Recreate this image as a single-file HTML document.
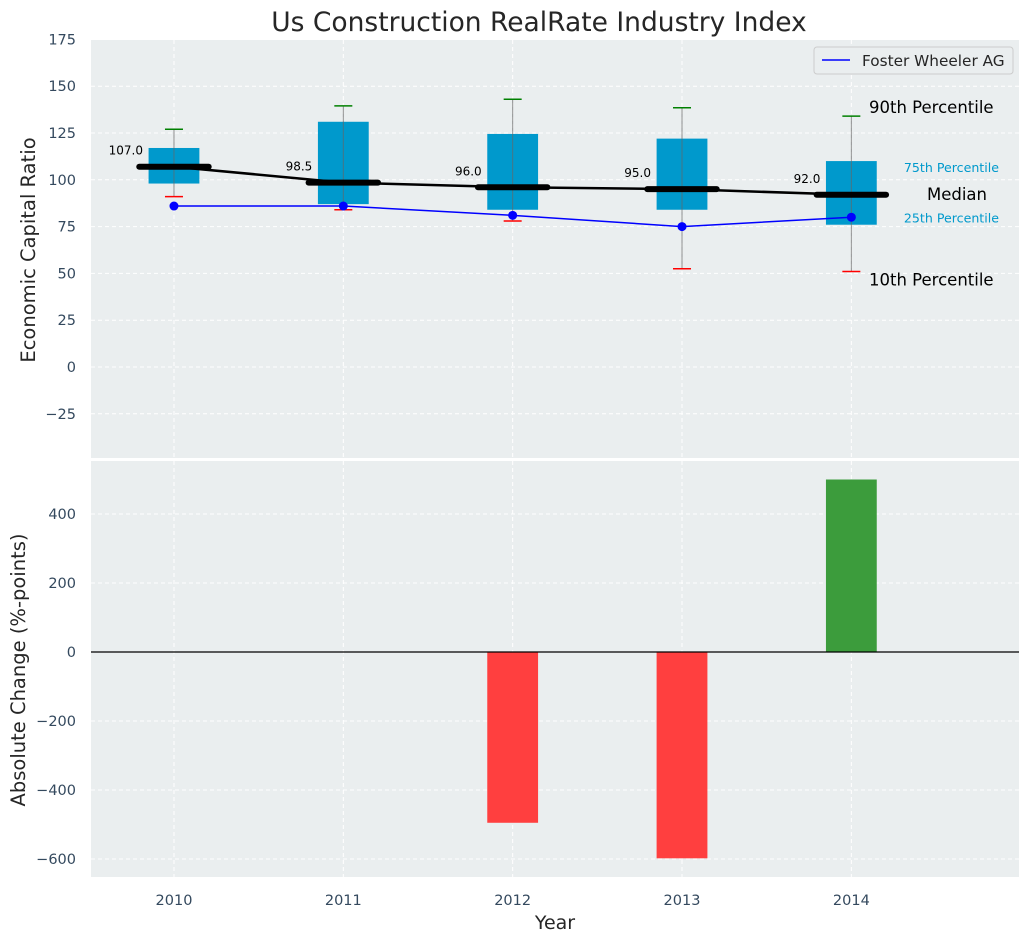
<!DOCTYPE html>
<html><head><meta charset="utf-8">
<style>
body{margin:0;background:#fff;font-family:"DejaVu Sans","Liberation Sans",sans-serif;}
svg text{font-family:"DejaVu Sans","Liberation Sans",sans-serif;}
</style></head>
<body>
<svg id="c" width="1029" height="942" xmlns="http://www.w3.org/2000/svg">
<rect x="0" y="0" width="1029" height="942" fill="#fff"/>
<text x="539" y="31" font-size="26.5" text-anchor="middle" fill="#262626">Us Construction RealRate Industry Index</text>
<g id="gtop"></g>
<g id="gbot"></g>
<text transform="translate(35,250) rotate(-90)" font-size="19.5" text-anchor="middle" fill="#262626">Economic Capital Ratio</text>
<text transform="translate(25,670) rotate(-90)" font-size="19.5" text-anchor="middle" fill="#262626">Absolute Change (%-points)</text>
<text x="555" y="929" font-size="19" text-anchor="middle" fill="#262626">Year</text>
</svg>
<script>
const years=[2010,2011,2012,2013,2014];
const q1=[98,87,84,84,76];
const q3=[117,131,124.5,122,110];
const p10=[91,84,78,52.5,51];
const p90=[127,139.5,143,138.5,134];
const medians=[107,98.5,96,95,92];
const company=[86,86,81,75,80];
const changes=[0,0,-495,-598,500];
const topTicks=[-25,0,25,50,75,100,125,150,175];
const botTicks=[-600,-400,-200,0,200,400];

const NS="http://www.w3.org/2000/svg";
const L=91,R=1019;
const x=v=>L+(v-2009.51)/(5.48)*(R-L);
const yT=v=>367-v*1.872;
const yB=v=>652-v*0.345;
function mk(p,tag,a,txt){const e=document.createElementNS(NS,tag);for(const k in a)e.setAttribute(k,a[k]);if(txt!=null)e.textContent=txt;p.appendChild(e);return e;}
const gT=document.getElementById('gtop'),gB=document.getElementById('gbot');
let e;
e=mk(gT,'rect',{x:L,y:40,width:R-L,height:418,fill:'#eaeeef'});


e=mk(gB,'rect',{x:L,y:461,width:R-L,height:416,fill:'#eaeeef'});


years.forEach(yr=>{
 mk(gT,'line',{x1:x(yr),x2:x(yr),y1:40,y2:458,stroke:'#fff','stroke-dasharray':'4,3','stroke-width':1});
 mk(gB,'line',{x1:x(yr),x2:x(yr),y1:461,y2:877,stroke:'#fff','stroke-dasharray':'4,3','stroke-width':1});
 e=mk(gB,'text',{x:x(yr),y:905,'font-size':14.5,'text-anchor':'middle',fill:'#34495e'},yr);
 
 
});
topTicks.forEach(t=>{
 mk(gT,'line',{x1:L,x2:R,y1:yT(t),y2:yT(t),stroke:'#fff','stroke-dasharray':'4,3'});
 e=mk(gT,'text',{x:76,y:yT(t)+5,'font-size':14.5,'text-anchor':'end',fill:'#34495e'},t<0?'−'+(-t):t);
 
 
});
botTicks.forEach(t=>{
 mk(gB,'line',{x1:L,x2:R,y1:yB(t),y2:yB(t),stroke:'#fff','stroke-dasharray':'4,3'});
 e=mk(gB,'text',{x:76,y:yB(t)+5,'font-size':14.5,'text-anchor':'end',fill:'#34495e'},t<0?'−'+(-t):t);
 
 
});
const bw=0.3*(R-L)/5.48, mw=0.41*(R-L)/5.48;
years.forEach((yr,i)=>{
 const cx=x(yr);
 e=mk(gT,'rect',{x:cx-bw/2,y:yT(q3[i]),width:bw,height:yT(q1[i])-yT(q3[i]),fill:'#0099cc'});
 
 
 mk(gT,'line',{x1:cx,x2:cx,y1:yT(p90[i]),y2:yT(p10[i]),stroke:'#666','stroke-width':1,opacity:0.7});
 mk(gT,'line',{x1:cx-9,x2:cx+9,y1:yT(p90[i]),y2:yT(p90[i]),stroke:'green','stroke-width':1.5});
 mk(gT,'line',{x1:cx-9,x2:cx+9,y1:yT(p10[i]),y2:yT(p10[i]),stroke:'red','stroke-width':1.5});
});
mk(gT,'polyline',{points:years.map((yr,i)=>x(yr)+','+yT(medians[i])).join(' '),fill:'none',stroke:'#000','stroke-width':2.5});
years.forEach((yr,i)=>{
 const cx=x(yr);
 e=mk(gT,'line',{x1:cx-mw/2,x2:cx+mw/2,y1:yT(medians[i]),y2:yT(medians[i]),stroke:'#000','stroke-width':6,'stroke-linecap':'round'});
 
 
 e=mk(gT,'text',{x:cx-31,y:yT(medians[i])-12,'font-size':12,'text-anchor':'end',fill:'#000'},medians[i].toFixed(1));
 
 
});
e=mk(gT,'polyline',{points:years.map((yr,i)=>x(yr)+','+yT(company[i])).join(' '),fill:'none',stroke:'blue','stroke-width':1.5});


years.forEach((yr,i)=>{
 e=mk(gT,'circle',{cx:x(yr),cy:yT(company[i]),r:4.5,fill:'blue'});
 
 
});
const li=years.length-1;
const ann=[[869,yT(p90[li])-3,'90th Percentile',16.5,'#000','start'],[999,yT(q3[li])+11,'75th Percentile',12.6,'#0099cc','end'],[987,yT(medians[li])+5,'Median',16.5,'#000','end'],[999,yT(q1[li])-2,'25th Percentile',12.6,'#0099cc','end'],[869,yT(p10[li])+14,'10th Percentile',16.5,'#000','start']];
ann.forEach(a=>{
 e=mk(gT,'text',{x:a[0],y:a[1],'font-size':a[3],fill:a[4],'text-anchor':a[5]},a[2]);
 
 
});
const lg=mk(gT,'g',{});


mk(lg,'rect',{x:814,y:47,width:199,height:27,rx:3,fill:'#eaeeef',stroke:'#ccc'});
mk(lg,'line',{x1:822,x2:850,y1:60,y2:60,stroke:'blue','stroke-width':1.5});
mk(lg,'text',{x:862,y:66,'font-size':15.3,fill:'#262626'},'Foster Wheeler AG');
years.forEach((yr,i)=>{
 const v=changes[i]; if(v===0)return;
 e=mk(gB,'rect',{x:x(yr)-bw/2,y:Math.min(yB(v),yB(0)),width:bw,height:Math.abs(yB(v)-yB(0)),fill:v<0?'#ff3f3f':'#3c9c3c'});
 
 
});
mk(gB,'line',{x1:L,x2:R,y1:yB(0),y2:yB(0),stroke:'#000','stroke-width':1.2});
</script>
</body></html>
